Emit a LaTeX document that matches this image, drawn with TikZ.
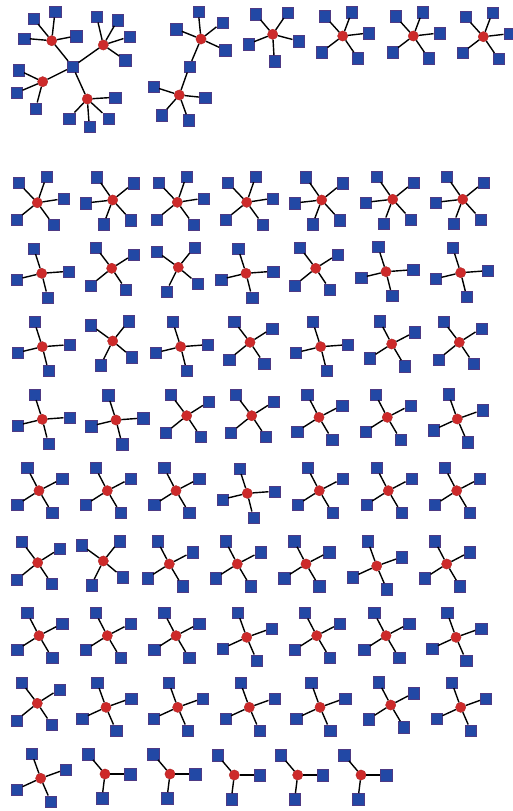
\documentclass[tikz,border=0pt]{standalone}
\definecolor{nodeblue}{RGB}{34,72,165}
\definecolor{hubred}{RGB}{205,42,42}
\tikzset{
  leaf/.style={rectangle, fill=nodeblue, draw=nodeblue!80!red, line width=0.3pt, minimum size=11.3pt, inner sep=0pt},
  hub/.style={circle, fill=hubred, draw=hubred!85!black, line width=0.3pt, minimum size=10.3pt, inner sep=0pt},
  edge/.style={draw=black, line width=1.4pt},
}
\newcommand\hubstar[4]{%
  \node[hub] (#1) at (#2,#3) {};
  \foreach \dx/\dy [count=\i] in #4 {
    \node[leaf] (#1-\i) at ({#2+\dx},{#3+\dy}) {};
    \draw[edge] (#1) -- (#1-\i);
  }%
}
\def\typA{-19/-20,9/-26,26/-4,-21/17,16/22}
\def\typB{-16/-23,21/-17,-27/3,-9/24,18/20}
\def\typC{-8/-25,27/-2,-25/6,6/24}
\def\typD{-16/-21,22/-14,-21/17,14/21}
\def\typE{-22/-16,16/-20,-12/24,19/16}
\def\typF{-12/-23,23/-12,-22/14,13/22}
\def\typG{-9/-25,25/-9,-24/11,10/23}
\def\typH{-17/-20,25/0,-3/24}
\def\typT{-18/-20,9/-24,26/-3,-21/16,15/22}
\def\typHa{-18.4/-22.4,3.3/-29,24.3/-4.7,-27.7/-2.4}
\def\typHb{-6.6/-28.3,14.4/-25,26/-8.3,21.7/15}
\def\typHc{-24.4/-11.7,-26/11,-7/26.6}
\def\typHd{27.7/-1.7,-18.3/19.3,2/27.7,21/19.3}
\def\typTa{-2.7/-27.3,21.3/-16.7,-25/-10,24/11}
\def\typTb{-26/-8.3,25.7/2.7,-17.6/20,9/25}
\def\typTc{-17/-20.3,15/-22,-24.4/9.7,25.6/6.7,1.6/26.7}
\begin{document}
\begin{tikzpicture}[x=1pt,y=-1pt]
\useasboundingbox[fill=white] (0,0) rectangle (512,811);
% top-left tree
\node[leaf] (c0) at (72.7,66.7) {};
\hubstar{h1}{51.7}{40.7}{\typHa}
\hubstar{h2}{103.3}{45}{\typHb}
\hubstar{h3}{42.7}{81.7}{\typHc}
\hubstar{h4}{87.3}{99}{\typHd}
\foreach \h in {h1,h2,h3,h4} \draw[edge] (c0) -- (\h);
% two-hub chain
\hubstar{t1}{201}{39}{\typTa}
\node[leaf] (s2) at (189.3,66.7) {};
\hubstar{t2}{179.3}{95}{\typTb}
\draw[edge] (t1) -- (s2) -- (t2);
% top single stars
\hubstar{t3}{272.7}{34.3}{\typTc}
\hubstar{t4}{342.7}{36}{\typT}
\hubstar{t5}{413.3}{36}{\typT}
\hubstar{t6}{483.3}{36.7}{\typT}
% row 1
\hubstar{g11}{37.3}{202.7}{\typA}
\hubstar{g12}{112.7}{200}{\typB}
\hubstar{g13}{177.3}{202.3}{\typA}
\hubstar{g14}{246.7}{202.3}{\typA}
\hubstar{g15}{321.7}{200}{\typB}
\hubstar{g16}{392.7}{199.3}{\typB}
\hubstar{g17}{462.7}{199.3}{\typB}
% row 2
\hubstar{g21}{41.7}{273.3}{\typC}
\hubstar{g22}{111.7}{268.3}{\typD}
\hubstar{g23}{178.3}{267.3}{\typE}
\hubstar{g24}{246}{273.3}{\typC}
\hubstar{g25}{315.7}{268.3}{\typD}
\hubstar{g26}{386}{271.7}{\typC}
\hubstar{g27}{460.7}{272.7}{\typC}
% row 3
\hubstar{g31}{42.3}{346.7}{\typC}
\hubstar{g32}{112.7}{341}{\typE}
\hubstar{g33}{180.7}{346.7}{\typC}
\hubstar{g34}{250}{342.3}{\typD}
\hubstar{g35}{320.7}{346.7}{\typC}
\hubstar{g36}{391.7}{344}{\typF}
\hubstar{g37}{459.3}{342.3}{\typD}
% row 4
\hubstar{g41}{42.3}{419.3}{\typC}
\hubstar{g42}{116}{420}{\typC}
\hubstar{g43}{186.7}{415.7}{\typD}
\hubstar{g44}{251.7}{415.7}{\typD}
\hubstar{g45}{319}{417.3}{\typF}
\hubstar{g46}{387.3}{417.3}{\typF}
\hubstar{g47}{457.3}{419}{\typG}
% row 5
\hubstar{g51}{39}{490.7}{\typF}
\hubstar{g52}{107.3}{490.7}{\typF}
\hubstar{g53}{176}{490.7}{\typF}
\hubstar{g54}{247.3}{493.3}{\typC}
\hubstar{g55}{319.3}{490.7}{\typF}
\hubstar{g56}{388.3}{490.7}{\typF}
\hubstar{g57}{456.7}{490.7}{\typF}
% row 6
\hubstar{g61}{37.7}{562.7}{\typD}
\hubstar{g62}{103.3}{561}{\typE}
\hubstar{g63}{169.3}{564}{\typF}
\hubstar{g64}{237.3}{564}{\typF}
\hubstar{g65}{306}{564}{\typF}
\hubstar{g66}{376.7}{566}{\typG}
\hubstar{g67}{446.7}{564}{\typF}
% row 7
\hubstar{g71}{39}{635.7}{\typF}
\hubstar{g72}{107.3}{635.7}{\typF}
\hubstar{g73}{176}{635.7}{\typF}
\hubstar{g74}{246.7}{637.3}{\typG}
\hubstar{g75}{316.7}{635.7}{\typF}
\hubstar{g76}{386}{635.7}{\typF}
\hubstar{g77}{456}{637.3}{\typG}
% row 8
\hubstar{g81}{37.3}{703.3}{\typD}
\hubstar{g82}{106}{707.3}{\typG}
\hubstar{g83}{177.7}{707.3}{\typG}
\hubstar{g84}{249.3}{707.3}{\typG}
\hubstar{g85}{320}{707.3}{\typG}
\hubstar{g86}{390.7}{705}{\typF}
\hubstar{g87}{460.7}{707.3}{\typG}
% row 9
\hubstar{g91}{40.7}{778.3}{\typG}
\hubstar{g92}{105}{774}{\typH}
\hubstar{g93}{170}{774}{\typH}
\hubstar{g94}{234.3}{775}{\typH}
\hubstar{g95}{297.7}{775}{\typH}
\hubstar{g96}{361}{775}{\typH}
\end{tikzpicture}
\end{document}
